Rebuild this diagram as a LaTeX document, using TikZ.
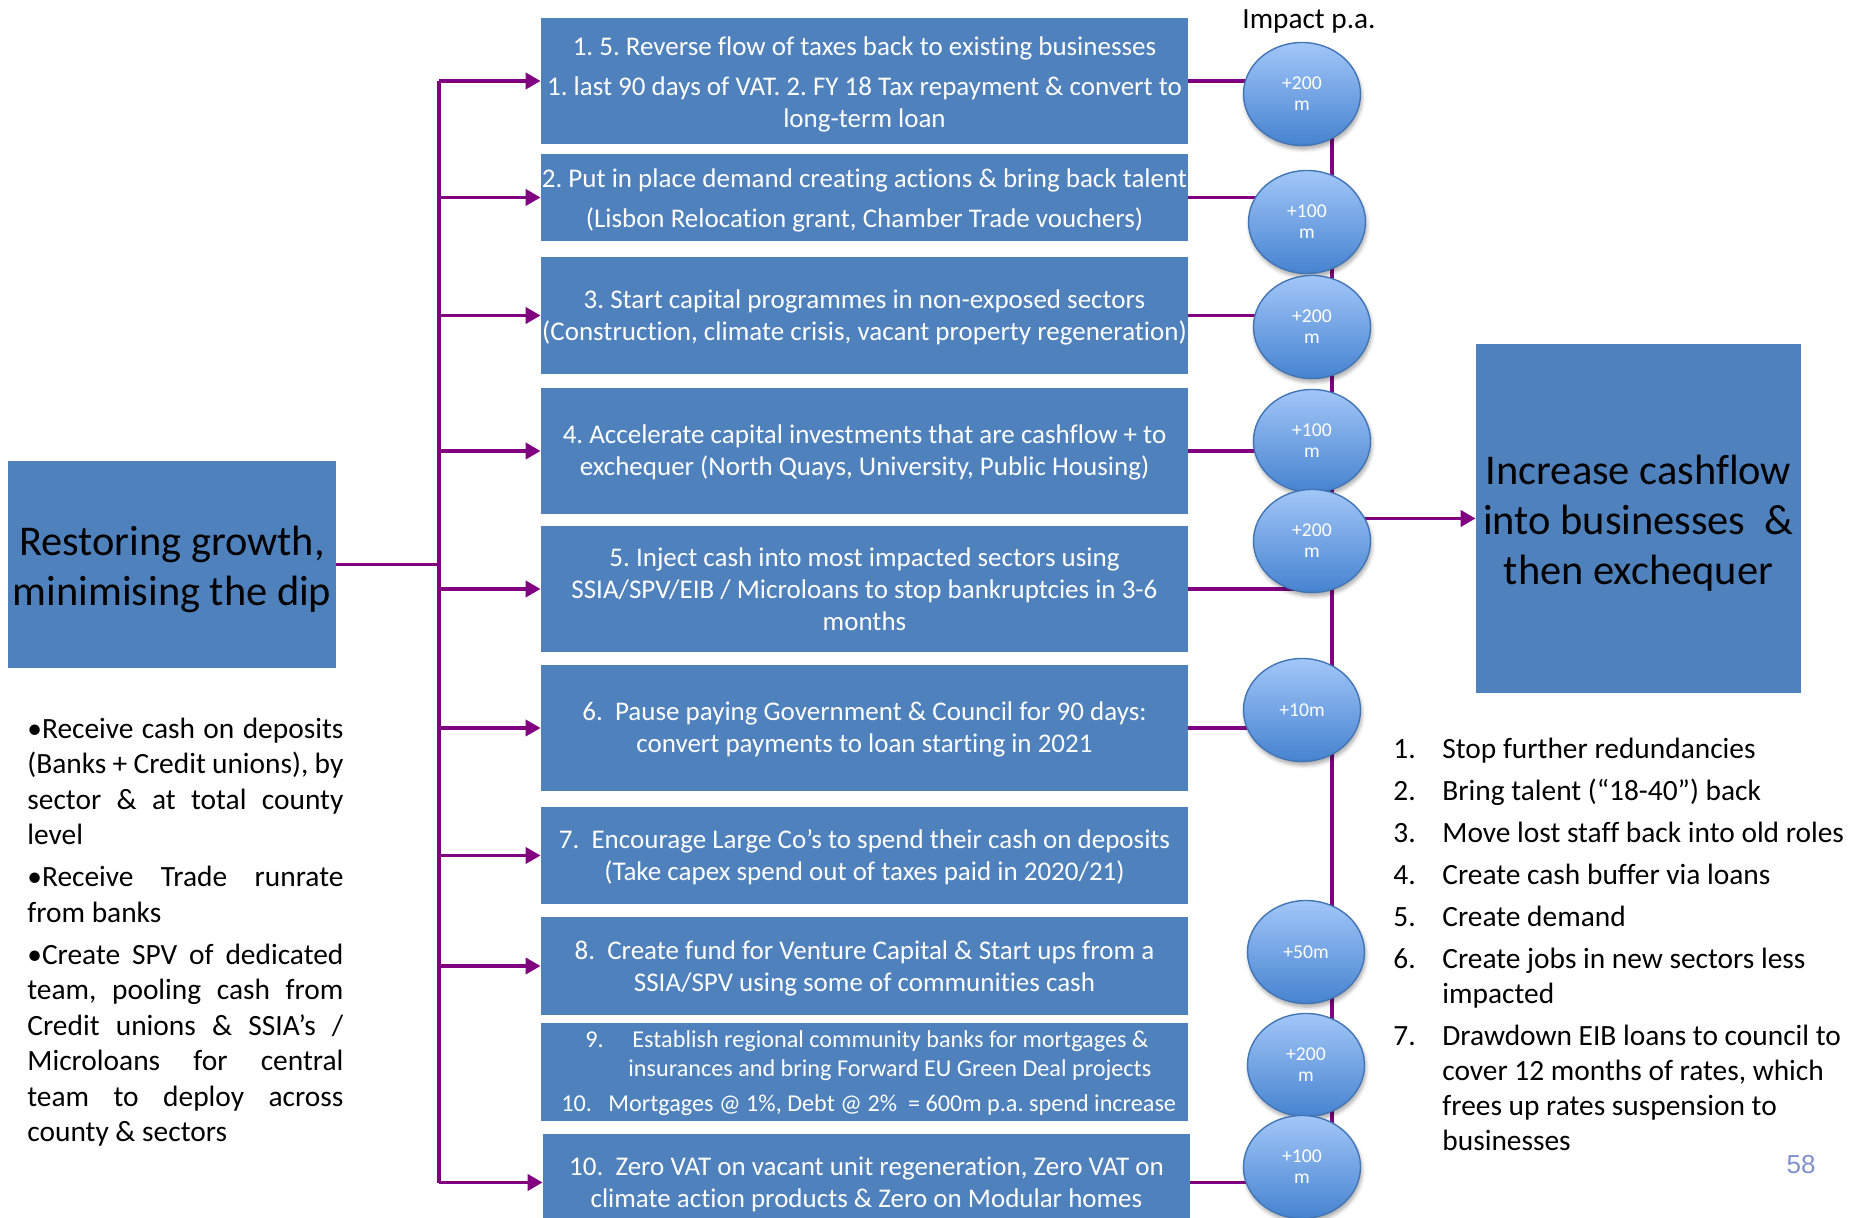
\documentclass[tikz,border=0pt]{standalone}
\usepackage{fontspec}
\setmainfont{Carlito}[Ligatures=NoCommon]
\newfontfamily\pagenofont{Liberation Sans}
\usetikzlibrary{arrows.meta,shapes.geometric,shadows.blur}
\frenchspacing

\definecolor{boxblue}{HTML}{4F81BD}
\definecolor{linkpurple}{HTML}{800080}
\definecolor{ovaltop}{HTML}{A2C6F8}
\definecolor{ovalbot}{HTML}{4683D0}
\definecolor{ovaledge}{HTML}{4275B5}
\definecolor{pagenoblue}{HTML}{7F90D0}

% one justified line of the side notes
\newcommand\jline[1]{\makebox[158pt][s]{#1}}

\begin{document}
\begin{tikzpicture}[x=0.5pt,y=-0.5pt,
  conn/.style={draw=linkpurple, line width=1.9pt},
  arr/.style={conn, -{Triangle[length=7.5pt,width=8pt]}},
  actionbox/.style={rectangle, fill=boxblue, inner sep=0pt, minimum width=323.5pt},
  boxtext/.style={inner sep=0pt, text=white, align=center, font=\fontsize{13.5}{15.9}\selectfont},
  titlebox/.style={rectangle, fill=boxblue, inner sep=0pt},
  titletext/.style={inner sep=0pt, text=black, align=center, font=\fontsize{21.2}{25}\selectfont},
  smalltext/.style={inner sep=0pt, text=white, font=\fontsize{12.1}{14.4}\selectfont},
  oval/.style={ellipse, minimum width=58.5pt, minimum height=51.5pt, inner sep=0pt,
    top color=ovaltop, bottom color=ovalbot, draw=ovaledge, line width=0.7pt,
    text=white, align=center, font=\fontsize{9.8}{10.5}\selectfont,
    blur shadow={shadow xshift=0.6pt, shadow yshift=-1.8pt, shadow blur steps=6, shadow opacity=35}},
]
\useasboundingbox (0,0) rectangle (1849,1218);

% bus positions
\coordinate (lbus) at (439,0);
\coordinate (rbus) at (1332,0);

% main boxes
\node[titlebox, minimum width=164pt, minimum height=103.5pt] (lbox) at (172,564.5) {};
\node[titletext] (lboxt) at ([yshift=-2.3pt]lbox.center) {Restoring growth,\\minimising the dip};
\node[titlebox, minimum width=162.5pt, minimum height=174.5pt] (rbox) at (1638.5,518.5) {};
\node[titletext] (rboxt) at ([yshift=-2.2pt]rbox.center)
  {Increase cashflow\\into businesses~ \&\\then exchequer};

% action boxes
\node[actionbox, minimum height=63pt] (b1) at (864.5,81) {};
\node[boxtext] (b1t) at ([yshift=-1.6pt]b1.center)
  {1. 5. Reverse flow of taxes back to existing businesses\\[4.2pt]
   1. last 90 days of VAT. 2. FY 18 Tax repayment \& convert to\\long-term loan};
\node[actionbox, minimum height=43.5pt] (b2) at (864.5,197.5) {};
\node[boxtext] (b2t) at ([yshift=-1.6pt]b2.center)
  {2. Put in place demand creating actions \& bring back talent\\[4.2pt]
   (Lisbon Relocation grant, Chamber Trade vouchers)};
\node[actionbox, minimum height=58.5pt] (b3) at (864.5,315.5) {};
\node[boxtext] (b3t) at ([yshift=-0.9pt]b3.center)
  {3. Start capital programmes in non-exposed sectors\\
   (Construction, climate crisis, vacant property regeneration)};
\node[actionbox, minimum height=63pt] (b4) at (864.5,451) {};
\node[boxtext] (b4t) at ([yshift=-0.6pt]b4.center)
  {4. Accelerate capital investments that are cashflow + to\\
   exchequer (North Quays, University, Public Housing)};
\node[actionbox, minimum height=63pt] (b5) at (864.5,589) {};
\node[boxtext] (b5t) at (b5.center)
  {5. Inject cash into most impacted sectors using\\
   SSIA/SPV/EIB / Microloans to stop bankruptcies in 3-6\\months};
\node[actionbox, minimum height=63pt] (b6) at (864.5,728) {};
\node[boxtext] (b6t) at ([yshift=-0.9pt]b6.center)
  {6.~ Pause paying Government \& Council for 90 days:\\
   convert payments to loan starting in 2021};
\node[actionbox, minimum height=48.5pt] (b7) at (864.5,855.5) {};
\node[boxtext] (b7t) at ([yshift=-0.9pt]b7.center)
  {7.~ Encourage Large Co’s to spend their cash on deposits\\
   (Take capex spend out of taxes paid in 2020/21)};
\node[actionbox, minimum height=49pt] (b8) at (864.5,966) {};
\node[boxtext] (b8t) at ([yshift=-1.4pt]b8.center)
  {8.~ Create fund for Venture Capital \& Start ups from a\\
   SSIA/SPV using some of communities cash};
\node[actionbox, minimum height=49pt] (b9) at (864.5,1072) {};
\node[smalltext, anchor=base west] (b9num) at (585,1048) {9.};
\node[smalltext, anchor=base west] (b9la) at (632,1048)
  {Establish regional community banks for mortgages \&};
\node[smalltext, anchor=base west] (b9lb) at (628,1077)
  {insurances and bring Forward EU Green Deal projects};
\node[smalltext, anchor=base west] (b9num2) at (561,1112) {10.};
\node[smalltext, anchor=base west] (b9lc) at (608,1112)
  {Mortgages @ 1\%, Debt @ 2\%~ = 600m p.a. spend increase};
\node[actionbox, minimum height=48.5pt] (b10) at (866.5,1182.5) {};
\node[boxtext] (b10t) at ([yshift=-0.9pt]b10.center)
  {10.~ Zero VAT on vacant unit regeneration, Zero VAT on\\
   climate action products \& Zero on Modular homes};

% left distribution bus
\draw[conn] (lbox.east) -- (lbox.east -| lbus);
\draw[conn] (b1.west -| lbus) -- (b10.west -| lbus);
\foreach \b in {b1,b2,b3,b4,b5,b6,b7,b8,b10}
  \draw[arr] (\b.west -| lbus) -- (\b.west);

% impact ovals and right collector
\coordinate (e1c) at (1302,94);
\coordinate (e9c) at (1302,1167);
\draw[conn] (e1c -| rbus) -- (e9c -| rbus);
\foreach \b in {b1,b2,b3,b4,b5,b6,b10}
  \draw[conn] (\b.east) -- (\b.east -| rbus);
\draw[arr] (rbox.west -| rbus) -- (rbox.west);

\node[oval] (e1) at (e1c) {+200\\m};
\node[oval] (e2) at (1307,222) {+100\\m};
\node[oval] (e3) at (1312,327) {+200\\m};
\node[oval] (e4) at (1312,441) {+100\\m};
\node[oval] (e5) at (1312,541) {+200\\m};
\node[oval] (e6) at (1302,710) {+10m};
\node[oval] (e7) at (1306,952) {+50m};
\node[oval] (e8) at (1306,1065) {+200\\m};
\node[oval] (e9) at (e9c) {+100\\m};

\node[anchor=base, inner sep=0pt, font=\fontsize{14.65}{16.8}\selectfont] (impact) at (1309,29) {Impact p.a.};

% side notes
\node[anchor=north west, inner sep=0pt, align=left, font=\fontsize{14.7}{17.75}\selectfont] (notes) at (27,713)
  {\strut\jline{•Receive cash on deposits}\\
   \jline{(Banks + Credit unions), by}\\
   \jline{sector \& at total county}\\
   level\\[3.25pt]
   \jline{•Receive Trade runrate}\\
   from banks\\[3.25pt]
   \jline{•Create SPV of dedicated}\\
   \jline{team, pooling cash from}\\
   \jline{Credit unions \& SSIA’s /}\\
   \jline{Microloans for central}\\
   \jline{team to deploy across}\\
   county \& sectors};

% outcome list
\node[anchor=north west, inner sep=0pt, font=\fontsize{14.7}{17.5}\selectfont] (goals) at (1393,733.5)
  {\begin{tabular}{@{}p{24.5pt}@{}l@{}}
   1. & Stop further redundancies\\[3.5pt]
   2. & Bring talent (“18-40”) back\\[3.5pt]
   3. & Move lost staff back into old roles\\[3.5pt]
   4. & Create cash buffer via loans\\[3.5pt]
   5. & Create demand\\[3.5pt]
   6. & Create jobs in new sectors less\\
      & impacted\\[3.5pt]
   7. & Drawdown EIB loans to council to\\
      & cover 12 months of rates, which\\
      & frees up rates suspension to\\
      & businesses
   \end{tabular}};

\node[inner sep=0pt, text=pagenoblue, font=\pagenofont\fontsize{13}{15}\selectfont] (pageno) at (1801,1165) {58};
\end{tikzpicture}
\end{document}
